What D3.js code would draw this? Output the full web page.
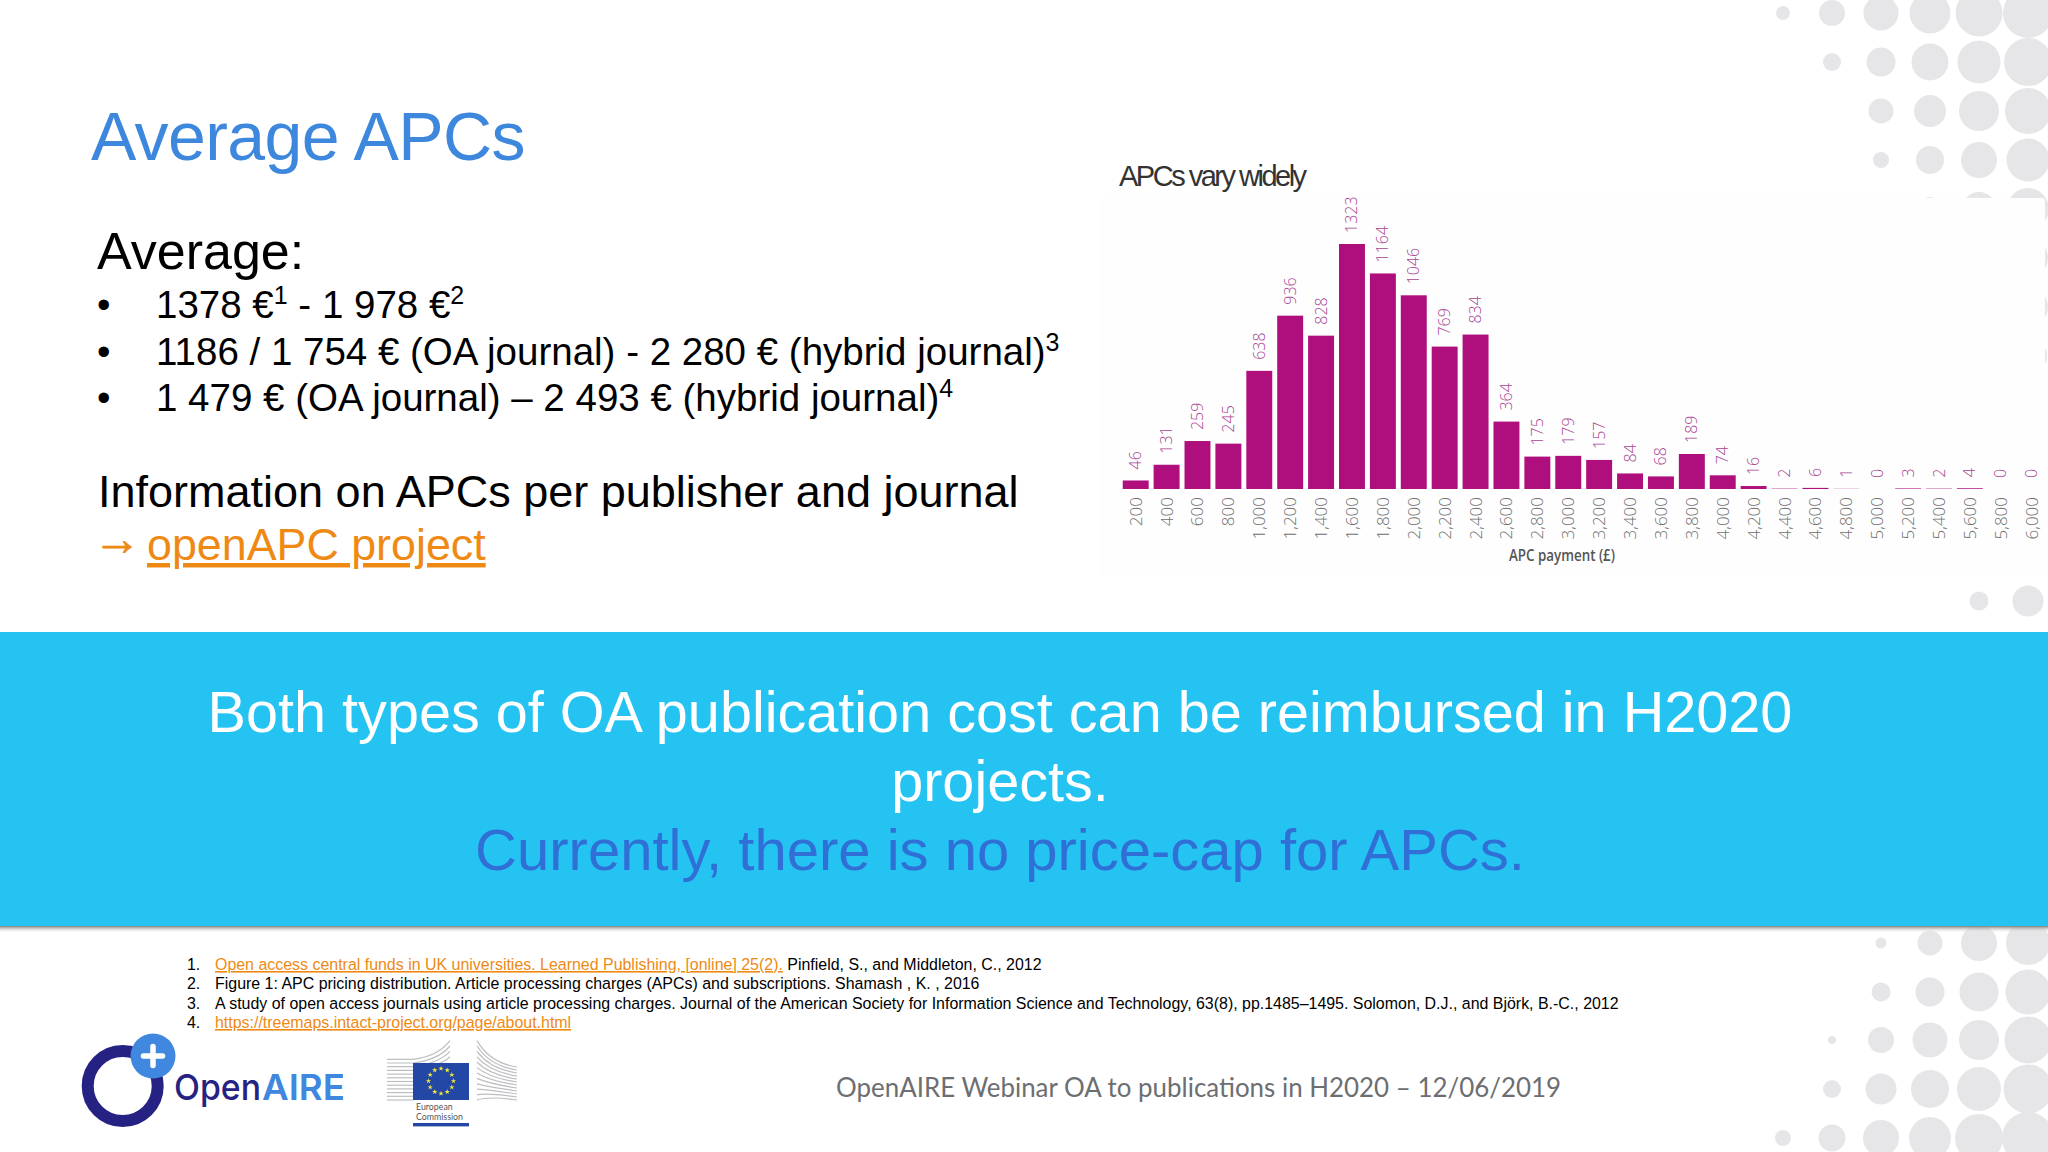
<![CDATA[<!DOCTYPE html>
<html><head><meta charset="utf-8">
<script src="https://cdnjs.cloudflare.com/ajax/libs/d3/7.8.5/d3.min.js"></script>
<style>html,body{margin:0;padding:0;background:#fff;overflow:hidden}svg{display:block}</style>
</head><body>
<svg id="s" width="2048" height="1152" xmlns="http://www.w3.org/2000/svg"></svg>
<script>
const categories=["200","400","600","800","1,000","1,200","1,400","1,600","1,800","2,000","2,200","2,400","2,600","2,800","3,000","3,200","3,400","3,600","3,800","4,000","4,200","4,400","4,600","4,800","5,000","5,200","5,400","5,600","5,800","6,000"];
const apcCounts=[46,131,259,245,638,936,828,1323,1164,1046,769,834,364,175,179,157,84,68,189,74,16,2,6,1,0,3,2,4,0,0];
const chartTitle="APCs vary widely";
const axisTitle="APC payment (£)";
const slideTitle="Average APCs";
const bulletLines=[
 [["1378 €"],["1","s"],[" - 1 978 €"],["2","s"]],
 [["1186 / 1 754 € (OA journal) - 2 280 € (hybrid journal)"],["3","s"]],
 [["1 479 € (OA journal) – 2 493 € (hybrid journal)"],["4","s"]]
];
const bannerLines=["Both types of OA publication cost can be reimbursed in H2020","projects.","Currently, there is no price-cap for APCs."];
const references=[
 [["Open access central funds in UK universities. Learned Publishing, [online] 25(2).","l"],[" Pinfield, S., and Middleton, C., 2012"]],
 [["Figure 1: APC pricing distribution. Article processing charges (APCs) and subscriptions. Shamash , K. , 2016"]],
 [["A study of open access journals using article processing charges. Journal of the American Society for Information Science and Technology, 63(8), pp.1485–1495. Solomon, D.J., and Björk, B.-C., 2012"]],
 [["https://treemaps.intact-project.org/page/about.html","l"]]
];
const dotColumns=[1783,1832,1881,1930,1979,2028];
const dotRowsTop=[[13,[7,13,17.5,20.5,23.5,25]],[62,[0,9,14.5,18.5,21.5,24]],[111,[0,0,12.5,16,20,23]],[160,[0,0,8,14,18,21.5]],[209,[0,0,0,12,17,21]],[258,[0,0,0,0,0,20]],[307,[0,0,0,0,0,20]],[356,[0,0,0,0,0,19]],[601,[0,0,0,0,9.5,15.5]]];
const dotRowsBottom=[[943,[0,0,5.5,12.5,18,22]],[992,[0,0,9.5,14.5,19.5,22.5]],[1040,[0,4,13,17.5,20,23.5]],[1089,[0,9,15.5,19,22,24.5]],[1138,[8,13.5,18,21,24,26]]];

const svg=d3.select("#s");
const SANS="'Liberation Sans',Arial,sans-serif";
svg.append("rect").attr("width",2048).attr("height",1152).attr("fill","#ffffff");

// dots
const dots=[...dotRowsTop,...dotRowsBottom].flatMap(([y,rs])=>rs.map((r,i)=>({x:dotColumns[i],y,r})).filter(d=>d.r>0));
svg.append("g").selectAll("circle").data(dots).join("circle")
 .attr("cx",d=>d.x).attr("cy",d=>d.y).attr("r",d=>d.r).attr("fill","#e6e6e8");
// white panel behind chart
svg.append("rect").attr("x",1100).attr("y",198).attr("width",945).attr("height",378).attr("rx",3).attr("fill","#fefefe");

// title
svg.append("text").attr("x",91).attr("y",160).attr("font-family",SANS).attr("font-size",68).attr("letter-spacing",-0.6).attr("fill","#3d87dc").text(slideTitle);
svg.append("text").attr("x",97).attr("y",269).attr("font-family",SANS).attr("font-size",52).attr("fill","#000").text("Average:");

// bullets
const bulletY=[318,365,411];
bulletLines.forEach((parts,i)=>{
 svg.append("text").attr("x",97).attr("y",bulletY[i]).attr("font-family",SANS).attr("font-size",38.5).text("•");
 const t=svg.append("text").attr("x",156).attr("y",bulletY[i]).attr("font-family",SANS).attr("font-size",38.5).attr("fill","#000");
 parts.forEach(p=>{
  const sp=t.append("tspan").text(p[0]);
  if(p[1]==="s"){sp.attr("font-size",25).attr("dy",-14);}
  else if(t.selectAll("tspan").size()>1){sp.attr("dy",14);}
 });
});
svg.append("text").attr("x",98).attr("y",507).attr("font-family",SANS).attr("font-size",45).attr("fill","#000").text("Information on APCs per publisher and journal");
svg.append("text").attr("x",93).attr("y",555).attr("font-family",SANS).attr("font-size",48).attr("fill","#ee8a14").attr("stroke","#ee8a14").attr("stroke-width",0.7).text("→");
svg.append("text").attr("x",147).attr("y",560).attr("font-family",SANS).attr("font-size",44.8).attr("fill","#ee8a14").attr("text-decoration","underline").text("openAPC project");

// chart
const x=d3.scaleBand().domain(categories).range([1120.25,2047.15]).paddingInner(0.16).paddingOuter(0.08);
const y=d3.scaleLinear().domain([0,1323]).range([489,244]);
const chart=svg.append("g");
chart.append("text").attr("x",1119).attr("y",186).attr("font-family",SANS).attr("font-size",29).attr("letter-spacing",-2.5).attr("fill","#333").text(chartTitle);
chart.selectAll("rect.bar").data(apcCounts).join("rect").attr("class","bar")
 .attr("x",(d,i)=>x(categories[i])).attr("width",x.bandwidth())
 .attr("y",d=>y(d)).attr("height",d=>y(0)-y(d)).attr("fill","#ae0f7c");
chart.selectAll("text.val").data(apcCounts).join("text").attr("class","val")
 .attr("transform",(d,i)=>`translate(${x(categories[i])+x.bandwidth()/2+5.5},${y(d)-11}) rotate(-90)`)
 .attr("font-family","'Open Sans',sans-serif").attr("font-weight",300).attr("font-size",16).attr("fill","#a94592").text(d=>d);
const axis=d3.axisBottom(x).tickSize(0).tickPadding(0);
const ax=chart.append("g").attr("transform","translate(0,489)").call(axis);
ax.select(".domain").remove();
ax.selectAll("text").attr("transform","translate(6,8) rotate(-90)").attr("x",0).attr("y",0).attr("dy",0)
 .attr("text-anchor","end").attr("font-family","'Open Sans',sans-serif").attr("font-weight",300).attr("font-size",17).attr("fill","#6f6f6f");
chart.append("text").attr("x",1562).attr("y",561).attr("text-anchor","middle").attr("font-family","'Open Sans',sans-serif").attr("font-weight",600).attr("font-size",15.5).attr("textLength",106).attr("lengthAdjust","spacingAndGlyphs").attr("fill","#555").text(axisTitle);

// banner
svg.append("defs").html('<linearGradient id="sh" x1="0" y1="0" x2="0" y2="1"><stop offset="0" stop-color="#808080"/><stop offset="1" stop-color="#ffffff" stop-opacity="0"/></linearGradient>');
svg.append("rect").attr("x",0).attr("y",926).attr("width",2048).attr("height",7).attr("fill","url(#sh)");
svg.append("rect").attr("x",0).attr("y",632).attr("width",2048).attr("height",294).attr("fill","#24c3f2");
const bannerY=[732,801,870],bannerFill=["#fff","#fff","#2f6fd6"],bannerSize=[57.6,57.6,58];
bannerLines.forEach((l,i)=>svg.append("text").attr("x",1000).attr("y",bannerY[i]).attr("text-anchor","middle").attr("font-family",SANS).attr("font-size",bannerSize[i]).attr("fill",bannerFill[i]).text(l));

// references
const refY=[970,989,1009,1028];
references.forEach((parts,i)=>{
 svg.append("text").attr("x",187).attr("y",refY[i]).attr("font-family",SANS).attr("font-size",15.95).attr("fill","#000").text((i+1)+".");
 const t=svg.append("text").attr("x",215).attr("y",refY[i]).attr("font-family",SANS).attr("font-size",15.95).attr("fill","#000");
 parts.forEach(p=>{const s=t.append("tspan").text(p[0]); if(p[1]==="l") s.attr("fill","#ee8a14").attr("text-decoration","underline");});
});

// footer
svg.append("text").attr("x",836).attr("y",1097).attr("font-family","Lato,sans-serif").attr("font-size",27).attr("textLength",725).attr("lengthAdjust","spacingAndGlyphs").attr("fill","#6d6e71").text("OpenAIRE Webinar OA to publications in H2020 – 12/06/2019");

// OpenAIRE logo
const lg=svg.append("g");
lg.append("circle").attr("cx",122.7).attr("cy",1086).attr("r",35).attr("fill","none").attr("stroke","#262283").attr("stroke-width",12);
lg.append("circle").attr("cx",153).attr("cy",1056).attr("r",22.5).attr("fill","#4087e0");
lg.append("path").attr("d","M143.5 1056H162.5M153 1046.5V1065.5").attr("stroke","#fff").attr("stroke-width",5.5).attr("stroke-linecap","round");
lg.append("text").attr("x",174).attr("y",1100).attr("font-family","Inter,sans-serif").attr("font-weight",500).attr("font-size",36).attr("textLength",87).attr("lengthAdjust","spacingAndGlyphs").attr("fill","#262283").text("Open");
lg.append("text").attr("x",262).attr("y",1100).attr("font-family","Inter,sans-serif").attr("font-weight",600).attr("font-size",36).attr("textLength",83).attr("lengthAdjust","spacingAndGlyphs").attr("fill","#4087e0").text("AIRE");

// European Commission logo
const ec=svg.append("g");
const ecLinesL=d3.range(12),ecLinesR=d3.range(12);
ec.selectAll("path.l").data(ecLinesL).join("path").attr("class","l").attr("fill","none").attr("stroke","#bcbec1").attr("stroke-width",1.2)
 .attr("d",d=>{const yy=1100-d*3.7;const yEnd=1100-d*5.4;return `M387 ${yy}L413 ${yy}`+(d>=8?`Q438 ${yy-3} 450 ${yEnd}`:"");});
ec.selectAll("path.r").data(ecLinesR).join("path").attr("class","r").attr("fill","none").attr("stroke","#bcbec1").attr("stroke-width",1.2)
 .attr("d",d=>{const yy=1100-d*3;const ys=1100-d*5.4;return `M477 ${ys}Q490 ${yy-4} 517 ${yy}`;});
ec.append("rect").attr("x",413).attr("y",1063).attr("width",56).attr("height",37).attr("fill","#2347a4");
const stars=d3.range(12);
const star=d3.symbol().type(d3.symbolStar).size(9);
ec.selectAll("path.st").data(stars).join("path").attr("class","st").attr("d",star).attr("fill","#f2e83a")
 .attr("transform",d=>{const a=d/12*2*Math.PI;return `translate(${441+12.5*Math.sin(a)},${1081-12.5*Math.cos(a)})`;});
ec.append("text").attr("x",416).attr("y",1110).attr("font-family","Lato,sans-serif").attr("font-size",8.8).attr("fill","#555").text("European");
ec.append("text").attr("x",416).attr("y",1119.5).attr("font-family","Lato,sans-serif").attr("font-size",8.8).attr("fill","#555").text("Commission");
ec.append("rect").attr("x",413).attr("y",1123).attr("width",56).attr("height",3.4).attr("fill","#2347a4");
</script>
</body></html>]]>
